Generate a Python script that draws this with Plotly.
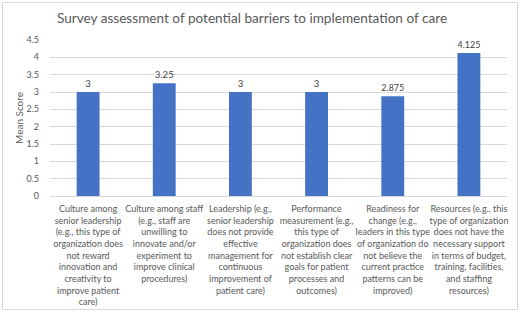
import plotly.graph_objects as go

categories = [
    "Culture among<br>senior leadership<br>(e.g., this type of<br>organization does<br>not reward<br>innovation and<br>creativity to<br>improve patient<br>care)",
    "Culture among staff<br>(e.g., staff are<br>unwilling to<br>innovate and/or<br>experiment to<br>improve clinical<br>procedures)",
    "Leadership (e.g.,<br>senior leadership<br>does not provide<br>effective<br>management for<br>continuous<br>improvement of<br>patient care)",
    "Performance<br>measurement (e.g.,<br>this type of<br>organization does<br>not establish clear<br>goals for patient<br>processes and<br>outcomes)",
    "Readiness for<br>change (e.g.,<br>leaders in this type<br>of organization do<br>not believe the<br>current practice<br>patterns can be<br>improved)",
    "Resources (e.g., this<br>type of organization<br>does not have the<br>necessary support<br>in terms of budget,<br>training, facilities,<br>and staffing<br>resources)",
]
mean_scores = [3, 3.25, 3, 3, 2.875, 4.125]
value_labels = ["3", "3.25", "3", "3", "2.875", "4.125"]
y_ticks = [0, 0.5, 1, 1.5, 2, 2.5, 3, 3.5, 4, 4.5]
y_tick_labels = ["0", "0.5", "1", "1.5", "2", "2.5", "3", "3.5", "4", "4.5"]
y_axis_title = "Mean Score"
chart_title = "Survey assessment of potential barriers to implementation of care"

FONT = "Lato, Carlito, Calibri, sans-serif"
GRAY = "#595959"

fig = go.Figure(
    go.Bar(
        x=categories,
        y=mean_scores,
        text=value_labels,
        textposition="outside",
        textfont=dict(size=9.5, color="#404040", family=FONT),
        marker=dict(color="#4472C4", line=dict(width=0)),
        width=0.3,
        cliponaxis=False,
        hoverinfo="skip",
    )
)

W, H = 520, 313
L, R, T, B = 50, 13, 40, 117
pw, ph = W - L - R, H - T - B

def px_x(x):
    return (x - L) / pw

def px_y(y):
    return (H - B - y) / ph

fig.update_layout(
    width=W,
    height=H,
    margin=dict(l=L, r=R, t=T, b=B),
    paper_bgcolor="white",
    plot_bgcolor="white",
    showlegend=False,
    font=dict(family=FONT, color=GRAY, size=9),
    title=dict(
        text=chart_title,
        font=dict(size=13.6, color=GRAY, family=FONT),
        x=252 / W,
        xanchor="center",
        xref="container",
        y=1 - 18 / H,
        yanchor="middle",
        yref="container",
    ),
    xaxis=dict(
        showgrid=False,
        showline=True,
        linecolor="#D9D9D9",
        linewidth=1,
        tickfont=dict(size=9, color=GRAY, family=FONT),
        ticks="",
        tickangle=0,
        ticklabelstandoff=4,
        automargin=False,
    ),
    yaxis=dict(
        range=[0, 4.5],
        tickvals=y_ticks,
        ticktext=y_tick_labels,
        showgrid=True,
        gridcolor="#D9D9D9",
        gridwidth=1,
        zeroline=False,
        showline=False,
        tickfont=dict(size=9, color=GRAY, family=FONT),
        ticks="",
        ticklabelstandoff=10,
        automargin=False,
    ),
    annotations=[
        dict(
            text=y_axis_title,
            xref="paper",
            yref="paper",
            x=px_x(19),
            y=0.5,
            xanchor="center",
            yanchor="middle",
            textangle=-90,
            showarrow=False,
            font=dict(size=10, color=GRAY, family=FONT),
        )
    ],
    shapes=[
        dict(
            type="rect",
            xref="paper",
            yref="paper",
            x0=px_x(2.5),
            x1=px_x(517.5),
            y0=px_y(309.5),
            y1=px_y(2.5),
            line=dict(color="#D9D9D9", width=1),
            fillcolor="rgba(0,0,0,0)",
            layer="below",
        )
    ],
)

fig.write_html(
    "out.html",
    config={"displayModeBar": False},
    post_script="document.body.style.margin='0';document.body.style.overflow='hidden';",
)
